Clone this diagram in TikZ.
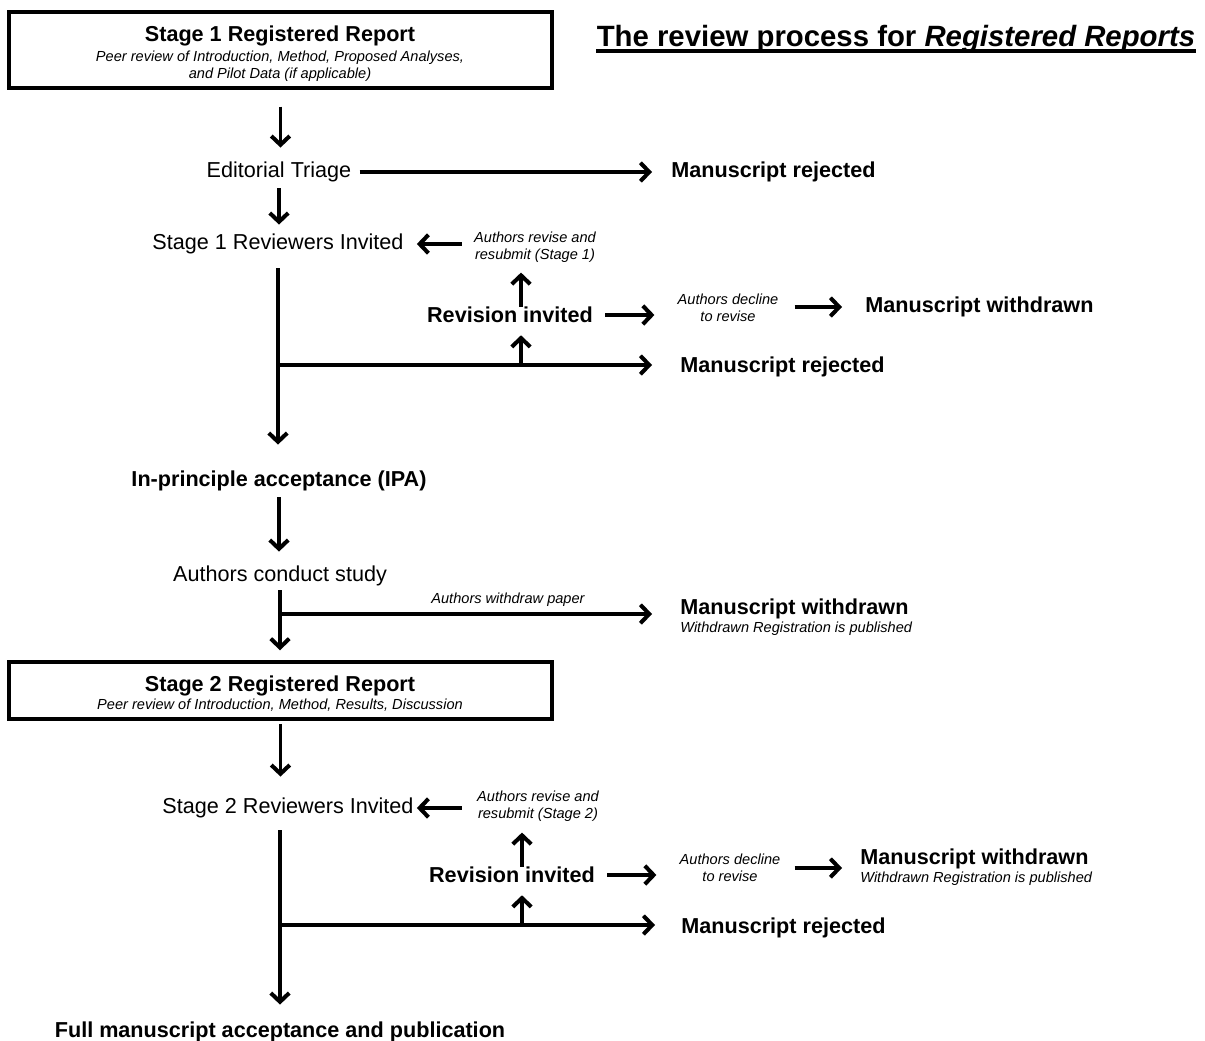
\documentclass[tikz,border=0pt]{standalone}
\usepackage{fontspec}
\setmainfont{Liberation Sans}
\usetikzlibrary{arrows.meta}

\begin{document}
\begin{tikzpicture}[x=0.02cm, y=-0.02cm,
    txt/.style={font=\fontsize{12.3}{14}\selectfont, inner sep=0pt},
    bold/.style={font=\fontsize{12.3}{14}\selectfont\bfseries, inner sep=0pt},
    note/.style={font=\fontsize{8.3}{9.6}\selectfont\itshape, inner sep=0pt, align=center},
    stagebox/.style={draw, line width=2pt, minimum width=10.86cm, inner sep=0pt},
    arr/.style={line width=2pt, -{Straight Barb[length=5pt, width=10.5pt, line width=2.3pt]}}]

  \useasboundingbox (0,0) rectangle (1205,1041);

  % stage 1
  \node[stagebox, minimum height=1.52cm] (box1) at (280.5,50) {};
  \node[bold] (head1) at (280,36) {Stage 1 Registered Report};
  \node[note] (sub1) at (280,66) {Peer review of Introduction, Method, Proposed Analyses,\\and Pilot Data (if applicable)};

  \node[font=\fontsize{16.7}{19}\selectfont\bfseries, inner sep=0pt] (title) at (896,39) {The review process for \textit{Registered Reports}\ };
  \draw[line width=1.8pt] ([yshift=-2.5pt]title.base west) -- ([yshift=-2.5pt]title.base east);

  \node[txt] (triage) at (279,172) {Editorial Triage};
  \node[bold, anchor=west] (rej1) at (671,172) {Manuscript rejected};
  \node[txt] (invite1) at (278,244) {Stage 1 Reviewers Invited};
  \node[note] (resub1) at (535,247) {Authors revise and\\resubmit (Stage 1)};
  \node[bold] (revise1) at (510,315) {Revision invited};
  \node[note] (decline1) at (728,308) {Authors decline\\to revise};
  \node[bold, anchor=west] (wd1) at (865,307) {Manuscript withdrawn};
  \node[bold, anchor=west] (rej2) at (680,367) {Manuscript rejected};
  \node[bold] (ipa) at (279,481) {In-principle acceptance (IPA)};
  \node[txt] (study) at (280,576) {Authors conduct study};
  \node[bold, anchor=west] (wd2) at (680,609) {Manuscript withdrawn};
  \node[note, anchor=west] (wd2note) at (680,629) {Withdrawn Registration is published};

  % stage 2
  \node[stagebox, minimum height=1.14cm] (box2) at (280.5,690.5) {};
  \node[bold] (head2) at (280,686) {Stage 2 Registered Report};
  \node[note] (sub2) at (280,705) {Peer review of Introduction, Method, Results, Discussion};
  \node[txt] (invite2) at (288,808) {Stage 2 Reviewers Invited};
  \node[note] (resub2) at (538,806) {Authors revise and\\resubmit (Stage 2)};
  \node[bold] (revise2) at (512,875) {Revision invited};
  \node[note] (decline2) at (730,868) {Authors decline\\to revise};
  \node[bold, anchor=west] (wd3) at (860,859) {Manuscript withdrawn};
  \node[note, anchor=west] (wd3note) at (860,879) {Withdrawn Registration is published};
  \node[bold, anchor=west] (rej3) at (681,928) {Manuscript rejected};
  \node[bold] (final) at (280,1032) {Full manuscript acceptance and publication};

  \coordinate (split1) at (278,365);
  \coordinate (up1) at (521,365);
  \coordinate (split2) at (280,614);
  \coordinate (split3) at (280,925);
  \coordinate (up2) at (522,925);

  \draw[arr, shorten <=0.34cm, shorten >=0.28cm] (box1.south) -- (box1.south |- triage.north);
  \draw[arr, shorten <=0.16cm, shorten >=0.38cm] (triage.east) -- (rej1.west);
  \draw[arr, shorten <=0.12cm, shorten >=0.18cm] (triage.south) -- (triage.south |- invite1.north);
  \draw[arr, shorten <=0.24cm, shorten >=0.26cm] (invite1.east -| resub1.west) -- (invite1.east);
  \draw[arr, shorten <=0.28cm, shorten >=0.52cm] (invite1.south) -- (invite1.south |- ipa.north);
  \draw[arr, shorten >=0.56cm] (split1) -- (split1 -| rej2.west);
  \draw[arr, shorten >=0.24cm] (up1) -- (up1 |- revise1.south);
  \draw[arr, shorten >=0.2cm] (up1 |- revise1.north) -- (up1 |- resub1.south);
  \draw[arr, shorten <=0.24cm, shorten >=0.46cm] (revise1.east) -- (revise1.east -| decline1.west);
  \draw[arr, shorten <=0.32cm, shorten >=0.46cm] (decline1.east |- wd1.west) -- (wd1.west);
  \draw[arr, shorten <=0.12cm, shorten >=0.28cm] (ipa.south) -- (ipa.south |- study.north);
  \draw[arr, shorten <=0.08cm, shorten >=0.2cm] (study.south) -- (study.south |- box2.north);
  \draw[arr, shorten >=0.56cm] (split2) -- (split2 -| wd2.west) node[note, pos=0.57, above=3pt] (withdraw) {Authors withdraw paper};
  \draw[arr, shorten <=0.06cm, shorten >=0.42cm] (box2.south) -- (box2.south |- invite2.north);
  \draw[arr, shorten <=0.3cm, shorten >=0.06cm] (invite2.east -| resub2.west) -- (invite2.east);
  \draw[arr, shorten <=0.24cm, shorten >=0.34cm] (final.north |- invite2.south) -- (final.north);
  \draw[arr, shorten >=0.52cm] (split3) -- (split3 -| rej3.west);
  \draw[arr, shorten >=0.24cm] (up2) -- (up2 |- revise2.south);
  \draw[arr, shorten >=0.22cm] (up2 |- revise2.north) -- (up2 |- resub2.south);
  \draw[arr, shorten <=0.24cm, shorten >=0.46cm] (revise2.east) -- (revise2.east -| decline2.west);
  \draw[arr, shorten <=0.28cm, shorten >=0.36cm] (decline2.east) -- (decline2.east -| wd3.west);

\end{tikzpicture}
\end{document}
